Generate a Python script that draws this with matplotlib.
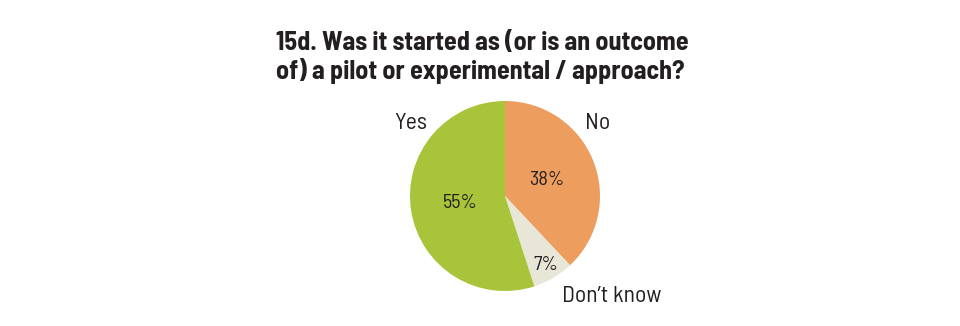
import numpy as np
from matplotlib import pyplot as plt

categories = ['No', "Don\u2019t know", 'Yes']
shares = [38, 7, 55]
pct_labels = ['38%', '7%', '55%']
colors = ['#ED9D5E', '#E8E6D6', '#A8C43A']

title = '15d. Was it started as (or is an outcome\nof) a pilot or experimental / approach?'

plt.rcParams['font.family'] = ['Barlow Semi Condensed', 'DejaVu Sans']

fig = plt.figure(figsize=(9.6, 3.26), dpi=100)
fig.patch.set_facecolor('white')

# pie axes: centre ~ (505, 196) px, radius ~95 px
ax = fig.add_axes([(505 - 95) / 960, (326 - 196 - 95) / 326, 190 / 960, 190 / 326])
wedges, _ = ax.pie(shares, colors=colors, startangle=90, counterclock=False,
                   radius=1, wedgeprops=dict(linewidth=0))
ax.set_xlim(-1, 1)
ax.set_ylim(-1, 1)
ax.set_aspect('auto')
ax.axis('off')

txt = '#231F20'
# percentage labels placed along each wedge's mid angle
pct_dist = [0.47, 0.84, 0.475]
for w, lab, d in zip(wedges, pct_labels, pct_dist):
    mid = np.deg2rad((w.theta1 + w.theta2) / 2)
    ax.text(d * np.cos(mid), d * np.sin(mid), lab, ha='center', va='center',
            fontsize=14.5, color=txt, clip_on=False)

# category labels
cat_pos = {'No': (0.97, 0.76), "Don\u2019t know": (1.125, -1.06), 'Yes': (-0.99, 0.76)}
for c in categories:
    x, y = cat_pos[c]
    ax.text(x, y, c, ha='center', va='center', fontsize=17, color=txt, clip_on=False)

fig.text(276 / 960, 1 - 31 / 326, title, ha='left', va='top', fontsize=18.8,
         fontweight='bold', color=txt, linespacing=1.12)

fig.savefig('out.png', dpi=100)
